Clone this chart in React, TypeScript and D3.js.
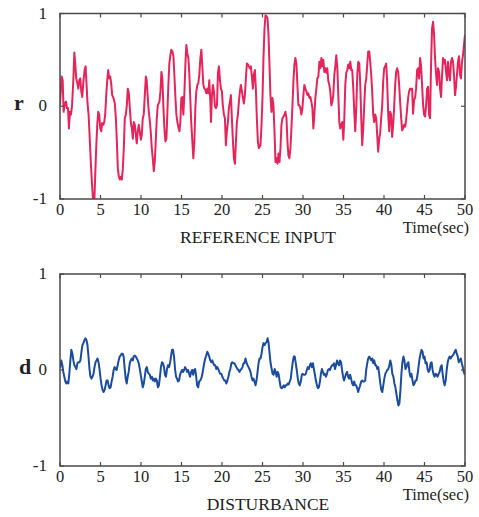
import React from "react";
import * as d3 from "d3";

type Pt = [number, number];

// reference input r(t)
const refInput: Pt[] = [
  [0, 0.01], [0.2, 0.32], [0.33, 0.28], [0.45, -0.06], [0.6, 0.03], [0.74, 0.05], [0.86, -0.02], [0.99, -0.02],
  [1.1, -0.24], [1.23, -0.06], [1.35, -0.09], [1.48, 0], [1.64, 0.27], [1.77, 0.58], [1.89, 0.45], [2.0, 0.3],
  [2.14, 0.25], [2.26, 0.19], [2.38, 0.28], [2.5, 0.3], [2.63, 0.16], [2.75, 0.1], [2.87, 0.25], [3.04, 0.39],
  [3.16, 0.43], [3.28, 0.23], [3.4, 0.03], [3.53, -0.09], [3.65, -0.31], [3.82, -0.63], [3.98, -0.88], [4.1, -1.03],
  [4.23, -1.05], [4.35, -0.74], [4.47, -0.45], [4.6, -0.2], [4.72, -0.06], [4.84, -0.09], [4.97, -0.24], [5.09, -0.27],
  [5.21, -0.18], [5.34, -0.2], [5.46, -0.17], [5.58, -0.09], [5.71, 0.12], [5.83, 0.28], [5.95, 0.39], [6.08, 0.3],
  [6.2, 0.32], [6.32, 0.25], [6.44, 0.12], [6.6, 0.09], [6.77, 0.03], [6.9, -0.13], [7.02, -0.38], [7.14, -0.67],
  [7.27, -0.76], [7.39, -0.79], [7.51, -0.76], [7.64, -0.79], [7.76, -0.67], [7.88, -0.45], [8.0, -0.13], [8.13, -0.09],
  [8.25, 0.01], [8.37, 0.19], [8.5, 0.14], [8.62, -0.02], [8.74, -0.17], [8.87, -0.24], [8.99, -0.35], [9.11, -0.17],
  [9.24, -0.2], [9.36, -0.31], [9.48, -0.4], [9.6, -0.27], [9.73, -0.2], [9.85, -0.27], [9.98, -0.36], [10.1, -0.31],
  [10.22, -0.13], [10.34, -0.09], [10.47, 0.12], [10.6, 0.32], [10.7, 0.28], [10.84, 0.09], [10.96, -0.06], [11.08, -0.15],
  [11.2, -0.27], [11.33, -0.45], [11.45, -0.56], [11.58, -0.7], [11.7, -0.6], [11.82, -0.38], [11.95, -0.13],
  [12.07, 0.01], [12.28, 0.05], [12.4, 0.16], [12.52, 0.37], [12.64, 0.3], [12.77, -0.02], [12.89, -0.24], [13.01, -0.38],
  [13.14, -0.35], [13.26, -0.06], [13.38, 0.23], [13.5, 0.46], [13.63, 0.55], [13.75, 0.61], [13.88, 0.59], [14.0, 0.54],
  [14.12, 0.34], [14.25, 0.09], [14.37, -0.09], [14.49, -0.17], [14.6, -0.22], [14.74, -0.27], [14.86, -0.17], [14.98, 0.09],
  [15.1, 0.1], [15.23, -0.09], [15.35, 0.12], [15.48, 0.45], [15.6, 0.66], [15.72, 0.57], [15.85, 0.52], [15.97, 0.34],
  [16.1, 0.05], [16.2, -0.17], [16.34, -0.38], [16.46, -0.56], [16.59, -0.38], [16.71, -0.02], [16.83, 0.16], [16.96, 0.23],
  [17.08, 0.25], [17.2, 0.34], [17.33, 0.52], [17.45, 0.61], [17.57, 0.43], [17.7, 0.23], [17.82, 0.19], [17.94, 0.18],
  [18.06, 0.14], [18.19, 0.19], [18.31, 0.14], [18.43, 0.28], [18.56, 0.05], [18.64, -0.17], [18.76, 0.12], [18.88, 0.23],
  [19.0, 0.16], [19.13, 0], [19.25, -0.02], [19.38, 0.01], [19.5, 0.36], [19.62, 0.43], [19.75, 0.28], [19.87, 0.19],
  [19.99, 0.16], [20.1, 0.01], [20.24, -0.09], [20.36, -0.13], [20.48, -0.42], [20.6, -0.27], [20.73, -0.17], [20.85, -0.02],
  [20.98, 0.05], [21.1, 0.12], [21.22, -0.13], [21.35, -0.38], [21.47, -0.56], [21.6, -0.62], [21.72, -0.38], [21.84, -0.17],
  [21.96, -0.09], [22.09, 0.05], [22.21, 0.16], [22.33, 0.23], [22.46, 0.16], [22.58, 0.09], [22.7, 0.03], [22.83, 0.12],
  [22.95, 0.3], [23.07, 0.46], [23.2, 0.45], [23.32, 0.43], [23.44, 0.41], [23.56, 0.43], [23.69, 0.32], [23.81, 0.19],
  [23.93, 0.34], [24.06, 0.39], [24.18, 0.19], [24.3, -0.13], [24.43, -0.38], [24.55, -0.45],
  [24.75, -0.42], [24.88, -0.2], [25.0, 0.09], [25.12, 0.52], [25.25, 0.84], [25.37, 0.98], [25.49, 0.97], [25.62, 0.95],
  [25.74, 0.77], [25.86, 0.45], [25.98, 0.12], [26.11, -0.06], [26.23, 0.09], [26.35, 0.01], [26.48, -0.27], [26.6, -0.6],
  [26.72, -0.56], [26.85, -0.62], [26.97, -0.51], [27.1, -0.6], [27.22, -0.45], [27.34, -0.2], [27.46, -0.13], [27.59, -0.11],
  [27.71, -0.09], [27.83, -0.06], [27.96, -0.13], [28.08, -0.38], [28.2, -0.53], [28.32, -0.56], [28.45, -0.45], [28.57, -0.24],
  [28.7, 0.01], [28.82, 0.27], [28.94, 0.45], [29.06, 0.52], [29.19, 0.45], [29.31, 0.23], [29.43, 0.01], [29.56, 0.01],
  [29.68, -0.02], [29.8, -0.09], [29.93, -0.02], [30.05, 0.12], [30.17, 0.23], [30.3, 0.19], [30.42, 0.16], [30.54, 0.12],
  [30.66, 0.14], [30.79, 0.09], [30.91, 0.1], [31.03, 0.05], [31.16, -0.02], [31.28, -0.24], [31.4, -0.09], [31.53, 0.09],
  [31.65, 0.19], [31.77, 0.3], [31.9, 0.32], [32.02, 0.48], [32.14, 0.41], [32.27, 0.52], [32.39, 0.43], [32.51, 0.5],
  [32.63, 0.37], [32.76, 0.41], [32.88, 0.36], [33.0, 0.41], [33.13, 0.27], [33.25, 0.23], [33.37, 0.16], [33.5, 0.01],
  [33.62, 0.05], [33.74, 0.12], [33.87, 0.34], [33.99, 0.43], [34.11, 0.55], [34.24, 0.41], [34.36, 0.12], [34.48, -0.17],
  [34.6, -0.24], [34.73, -0.2], [34.85, -0.17], [34.98, -0.36], [35.1, -0.13], [35.22, 0.23], [35.34, 0.36], [35.47, 0.39],
  [35.59, 0.45], [35.71, 0.41], [35.84, 0.48], [35.96, 0.39], [36.08, 0.39], [36.21, 0.19], [36.33, -0.06], [36.45, -0.27],
  [36.58, -0.02], [36.7, 0.34], [36.82, 0.48], [36.95, 0.46], [37.07, 0.23],
  [37.19, -0.13], [37.31, -0.42], [37.44, -0.24], [37.56, 0.01], [37.68, 0.23], [37.81, 0.3], [37.93, 0.45], [38.05, 0.59],
  [38.18, 0.59], [38.3, 0.48], [38.42, 0.34], [38.54, 0.16], [38.67, -0.09], [38.79, -0.17], [38.91, -0.09], [39.04, -0.13],
  [39.16, -0.31], [39.28, -0.49], [39.41, -0.35], [39.53, -0.29], [39.65, -0.13], [39.78, 0.01], [39.9, 0.27], [40.02, 0.41],
  [40.15, 0.43], [40.27, 0.46], [40.39, 0.27], [40.52, -0.09], [40.64, -0.27], [40.76, -0.06], [40.88, -0.09], [41.01, -0.33],
  [41.13, -0.2], [41.25, -0.02], [41.38, 0.23], [41.5, 0.37], [41.62, 0.41], [41.75, 0.37], [41.87, 0.23], [41.99, 0.05],
  [42.12, -0.13], [42.24, -0.26], [42.36, -0.24], [42.49, -0.2], [42.61, -0.22], [42.73, -0.15], [42.86, -0.02], [42.98, 0.09],
  [43.1, 0.16], [43.22, 0.19], [43.35, 0.18], [43.47, 0.19], [43.59, -0.08], [43.72, 0.07], [43.84, 0.09], [43.96, 0.19],
  [44.09, 0.39], [44.21, 0.41], [44.33, 0.3], [44.46, 0.52], [44.58, 0.43], [44.7, 0.23], [44.83, 0.01], [44.95, -0.09],
  [45.07, -0.11], [45.2, 0.01], [45.32, 0.19], [45.44, 0.21], [45.56, -0.09], [45.69, -0.13], [45.81, 0.45], [45.93, 0.84],
  [46.06, 0.91], [46.18, 0.77], [46.3, 0.52], [46.43, 0.34], [46.55, 0.23], [46.67, 0.41], [46.8, 0.37], [46.92, 0.19],
  [47.04, 0.1], [47.17, 0.34], [47.29, 0.52], [47.41, 0.46], [47.53, 0.5], [47.66, 0.37], [47.78, 0.28], [47.9, 0.48],
  [48.03, 0.34], [48.15, 0.28], [48.27, 0.48], [48.4, 0.52], [48.52, 0.48], [48.64, 0.34], [48.77, 0.12], [48.89, 0.21],
  [49.01, 0.34], [49.13, 0.48], [49.26, 0.54], [49.38, 0.34], [49.5, 0.3], [49.63, 0.48], [49.75, 0.55], [49.87, 0.66],
  [50.0, 0.77],
];

// disturbance d(t)
const disturbance: Pt[] = [
  [0, 0.02], [0.16, 0.1], [0.29, 0.05], [0.41, -0.02], [0.53, -0.07], [0.66, -0.12], [0.78, -0.14], [0.91, -0.12],
  [1.03, -0.14], [1.15, -0.04], [1.28, 0.1], [1.4, 0.21], [1.53, 0.17], [1.65, 0.1], [1.78, 0.05], [1.9, 0.03],
  [2.02, 0.01], [2.15, 0.07], [2.27, 0.08], [2.4, 0.08], [2.52, 0.1], [2.65, 0.19], [2.77, 0.26], [2.89, 0.28],
  [3.02, 0.31], [3.14, 0.33], [3.27, 0.31], [3.39, 0.26], [3.52, 0.14], [3.64, 0.01], [3.76, -0.07], [3.89, -0.09],
  [4.01, -0.07], [4.14, -0.04], [4.26, 0.03], [4.39, 0.08], [4.51, 0.1], [4.63, 0.12], [4.76, 0.08], [4.88, 0.01],
  [5.01, -0.09], [5.13, -0.16], [5.26, -0.21], [5.38, -0.23], [5.5, -0.21], [5.63, -0.16], [5.75, -0.11], [5.88, -0.11],
  [6.0, -0.16], [6.12, -0.19], [6.25, -0.18], [6.37, -0.12], [6.5, -0.07], [6.62, 0], [6.75, 0.03], [6.87, 0.01],
  [6.99, 0], [7.12, 0.05], [7.24, 0.1], [7.37, 0.14], [7.49, 0.15], [7.61, 0.17], [7.74, 0.17], [7.86, 0.14],
  [7.99, 0.01], [8.11, -0.09], [8.24, -0.14], [8.36, -0.07], [8.48, -0.02], [8.61, 0.07], [8.73, 0.1], [8.86, 0.12],
  [8.98, 0.1], [9.1, 0.14], [9.23, 0.15], [9.35, 0.14], [9.48, 0.12], [9.6, 0.1], [9.72, 0.07], [9.85, 0.01],
  [9.97, -0.05], [10.1, -0.12], [10.22, -0.18], [10.35, -0.14], [10.47, -0.07], [10.59, 0.01], [10.72, 0.03], [10.84, -0.02],
  [10.97, -0.04], [11.09, -0.05], [11.21, -0.09], [11.34, -0.07], [11.46, -0.11], [11.59, -0.09], [11.71, -0.12], [11.84, -0.09],
  [11.96, -0.11],
  [12.09, -0.18], [12.21, -0.16], [12.34, -0.07], [12.46, 0.03], [12.59, 0.08], [12.71, 0.07], [12.84, 0.03], [12.96, -0.05],
  [13.08, -0.07], [13.21, 0.01], [13.33, 0.05], [13.46, 0.03], [13.58, 0.07], [13.7, 0.14], [13.83, 0.21], [13.95, 0.21],
  [14.08, 0.14], [14.2, 0.01], [14.33, -0.07], [14.45, -0.09], [14.57, -0.12], [14.7, -0.11], [14.82, -0.05], [14.95, -0.02],
  [15.07, 0], [15.2, -0.02], [15.32, 0], [15.44, 0.03], [15.57, 0.01], [15.69, -0.02], [15.82, 0], [15.94, -0.04],
  [16.06, -0.07], [16.19, -0.02], [16.31, 0], [16.44, -0.05], [16.56, 0], [16.69, 0.01], [16.81, -0.07], [16.93, -0.16],
  [17.06, -0.18], [17.18, -0.12], [17.31, -0.11], [17.43, -0.09], [17.56, -0.05], [17.68, 0.01], [17.8, 0.07], [17.93, 0.12],
  [18.05, 0.15], [18.18, 0.19], [18.3, 0.17], [18.42, 0.14], [18.55, 0.1], [18.67, 0.08], [18.8, 0.1], [18.92, 0.07],
  [19.05, 0.05], [19.17, 0.05], [19.29, 0.01], [19.42, 0.03], [19.54, 0.01], [19.67, -0.02], [19.79, -0.04], [19.92, -0.04],
  [20.04, -0.07], [20.16, -0.09], [20.29, -0.11], [20.41, -0.11], [20.54, -0.14], [20.66, -0.11], [20.79, -0.07], [20.91, -0.02],
  [21.03, 0.01], [21.16, 0.07], [21.28, 0.08], [21.41, 0.07], [21.53, 0.07], [21.66, 0.05], [21.78, 0.03], [21.9, 0.01],
  [22.03, 0], [22.15, -0.02], [22.28, 0], [22.4, 0.01], [22.53, 0.03], [22.65, 0.07], [22.77, 0.07], [22.9, 0.12],
  [23.02, 0.08], [23.15, 0.05], [23.27, 0.03], [23.39, 0.01], [23.52, -0.02], [23.64, -0.07], [23.77, -0.11], [23.89, -0.09],
  [24.01, -0.12], [24.14, -0.16], [24.26, -0.11], [24.39, -0.02], [24.51, 0.07], [24.64, 0.12],
  [24.76, 0.12], [24.88, 0.17], [25.01, 0.24], [25.13, 0.28], [25.26, 0.26], [25.38, 0.28], [25.5, 0.29], [25.63, 0.33],
  [25.75, 0.28], [25.88, 0.17], [26.0, 0.07], [26.13, 0.01], [26.25, -0.04], [26.37, -0.05], [26.5, 0.01], [26.62, -0.02],
  [26.75, -0.07], [26.87, -0.02], [26.99, -0.04], [27.12, -0.12], [27.24, -0.18], [27.37, -0.19], [27.49, -0.18], [27.62, -0.16],
  [27.74, -0.18], [27.86, -0.16], [27.99, -0.16], [28.11, -0.14], [28.24, -0.15], [28.36, -0.12], [28.49, -0.09], [28.61, 0],
  [28.73, 0.08], [28.86, 0.14], [28.98, 0.14], [29.11, 0.07], [29.23, 0], [29.36, -0.09], [29.48, -0.14], [29.6, -0.16],
  [29.73, -0.12], [29.85, -0.05], [29.98, -0.04], [30.1, -0.05], [30.23, -0.05], [30.35, -0.04], [30.47, 0], [30.6, 0.03],
  [30.72, 0.01], [30.85, 0.05], [30.97, 0.07], [31.1, 0.03], [31.22, 0.07], [31.34, 0.01], [31.47, -0.05], [31.59, -0.11],
  [31.72, -0.16], [31.84, -0.19], [31.96, -0.18], [32.09, -0.12], [32.21, -0.04], [32.34, 0.01], [32.46, -0.02], [32.59, -0.05],
  [32.71, -0.04], [32.83, -0.07], [32.96, -0.04], [33.08, 0], [33.21, 0.01], [33.33, 0], [33.46, 0.03], [33.58, 0.05],
  [33.7, 0.05], [33.83, 0.07], [33.95, 0.01], [34.08, 0.05], [34.2, 0.1], [34.32, 0.07], [34.45, 0.05], [34.57, 0.1],
  [34.7, 0.08], [34.82, 0], [34.95, -0.07], [35.07, -0.11], [35.2, -0.07], [35.32, -0.04], [35.45, -0.02], [35.57, -0.07],
  [35.69, -0.09], [35.82, -0.05], [35.94, -0.09], [36.07, -0.14], [36.19, -0.16], [36.32, -0.12], [36.44, -0.16], [36.56, -0.16],
  [36.69, -0.19], [36.81, -0.23], [36.94, -0.19], [37.06, -0.16], [37.18, -0.12], [37.31, -0.11],
  [37.43, -0.12], [37.55, -0.12], [37.68, -0.11], [37.8, 0], [37.93, 0.07], [38.05, 0.12], [38.18, 0.14], [38.3, 0.12],
  [38.42, 0.1], [38.55, 0.12], [38.67, 0.07], [38.8, 0.1], [38.92, 0.05], [39.04, 0.05], [39.17, 0.01], [39.29, 0.03],
  [39.42, -0.05], [39.54, -0.14], [39.67, -0.21], [39.79, -0.23], [39.91, -0.16], [40.04, -0.09], [40.16, -0.04], [40.29, -0.02],
  [40.41, 0], [40.54, 0.01], [40.66, 0.05], [40.78, 0.1], [40.91, 0.05], [41.03, -0.04], [41.16, -0.07], [41.28, -0.14],
  [41.41, -0.18], [41.53, -0.25], [41.65, -0.31], [41.78, -0.37], [41.9, -0.35], [42.03, -0.21], [42.15, -0.04], [42.27, 0.08],
  [42.4, 0.14], [42.52, 0.1], [42.65, 0.01], [42.77, 0.03], [42.9, 0.07], [43.02, 0.08], [43.14, -0.02], [43.27, -0.07],
  [43.39, -0.04], [43.52, -0.11], [43.64, -0.16], [43.77, -0.14], [43.89, -0.11], [44.01, -0.11], [44.14, -0.05], [44.26, 0.03],
  [44.39, 0.12], [44.51, 0.17], [44.64, 0.21], [44.76, 0.19], [44.88, 0.12], [45.01, 0.14], [45.13, 0.07], [45.26, 0.08],
  [45.38, 0.01], [45.5, -0.02], [45.63, 0], [45.75, 0.07], [45.88, 0.08], [46.0, 0], [46.13, -0.05], [46.25, -0.07],
  [46.37, -0.04], [46.5, -0.05], [46.62, -0.07], [46.75, -0.04], [46.87, -0.02], [46.99, 0.03], [47.12, 0.05], [47.24, -0.04],
  [47.37, -0.12], [47.49, -0.16], [47.62, -0.11], [47.74, 0], [47.86, 0.08], [47.99, 0.12], [48.11, 0.14], [48.24, 0.12],
  [48.36, 0.14], [48.49, 0.15], [48.61, 0.17], [48.73, 0.19], [48.86, 0.21], [48.98, 0.17], [49.11, 0.14], [49.23, 0.08],
  [49.35, 0.1], [49.48, 0.12], [49.6, 0.07], [49.73, 0.03], [49.85, -0.02], [49.98, -0.05],
];

const timeTicks = [0, 5, 10, 15, 20, 25, 30, 35, 40, 45, 50];
const valueTicks = [-1, 0, 1];

const serif = "'Liberation Serif', 'Times New Roman', serif";

const Panel = ({ id, top, bottom, data, color, symbol, symbolX, caption, captionX }) => {
  const left = 60;
  const right = 465;
  const x = d3.scaleLinear().domain([0, 50]).range([left, right]);
  const y = d3.scaleLinear().domain([-1, 1]).range([bottom, top]);
  const line = d3
    .line<Pt>()
    .x((d) => x(d[0]))
    .y((d) => y(d[1]));

  return (
    <g>
      <defs>
        <clipPath id={id}>
          <rect x={left} y={top} width={right - left} height={bottom - top} />
        </clipPath>
      </defs>
      <path
        d={line(data) || ""}
        fill="none"
        stroke={color}
        strokeWidth={2}
        strokeLinejoin="round"
        clipPath={`url(#${id})`}
      />
      <rect x={left} y={top} width={right - left} height={bottom - top} fill="none" stroke="#4a4a4a" strokeWidth={1.5} />
      {timeTicks.map((t) => (
        <g key={t}>
          <line x1={x(t)} x2={x(t)} y1={top} y2={top + 4} stroke="#4a4a4a" strokeWidth={1.2} />
          <line x1={x(t)} x2={x(t)} y1={bottom} y2={bottom - 4} stroke="#4a4a4a" strokeWidth={1.2} />
          <text x={x(t)} y={bottom + 16} textAnchor="middle" fontFamily={serif} fontSize={16.5} fill="#222">
            {t}
          </text>
        </g>
      ))}
      {valueTicks.map((v) => (
        <g key={v}>
          <line x1={left} x2={left + 4} y1={y(v)} y2={y(v)} stroke="#4a4a4a" strokeWidth={1.2} />
          <line x1={right} x2={right - 4} y1={y(v)} y2={y(v)} stroke="#4a4a4a" strokeWidth={1.2} />
          <text x={47} y={y(v) + 5} textAnchor="end" fontFamily={serif} fontSize={17} fill="#222">
            {v}
          </text>
        </g>
      ))}
      <text x={symbolX} y={y(0) + 4} textAnchor="middle" fontFamily={serif} fontSize={22} fontWeight="bold" fill="#222">
        {symbol}
      </text>
      <text x={right + 4} y={bottom + 34} textAnchor="end" fontFamily={serif} fontSize={16.5} fill="#222">
        Time(sec)
      </text>
      <text x={captionX} y={bottom + 44} textAnchor="middle" fontFamily={serif} fontSize={17.5} fill="#222">
        {caption}
      </text>
    </g>
  );
};

export default function App() {
  return (
    <svg width={479} height={517} style={{ position: "absolute", left: 0, top: 0, background: "#fff" }}>
      <Panel id="clip-r" top={13.5} bottom={199} data={refInput} color="#e4245a" symbol="r" symbolX={19}
        caption="REFERENCE INPUT" captionX={258} />
      <Panel id="clip-d" top={274} bottom={466} data={disturbance} color="#1b4c9e" symbol="d" symbolX={25}
        caption="DISTURBANCE" captionX={268} />
    </svg>
  );
}
